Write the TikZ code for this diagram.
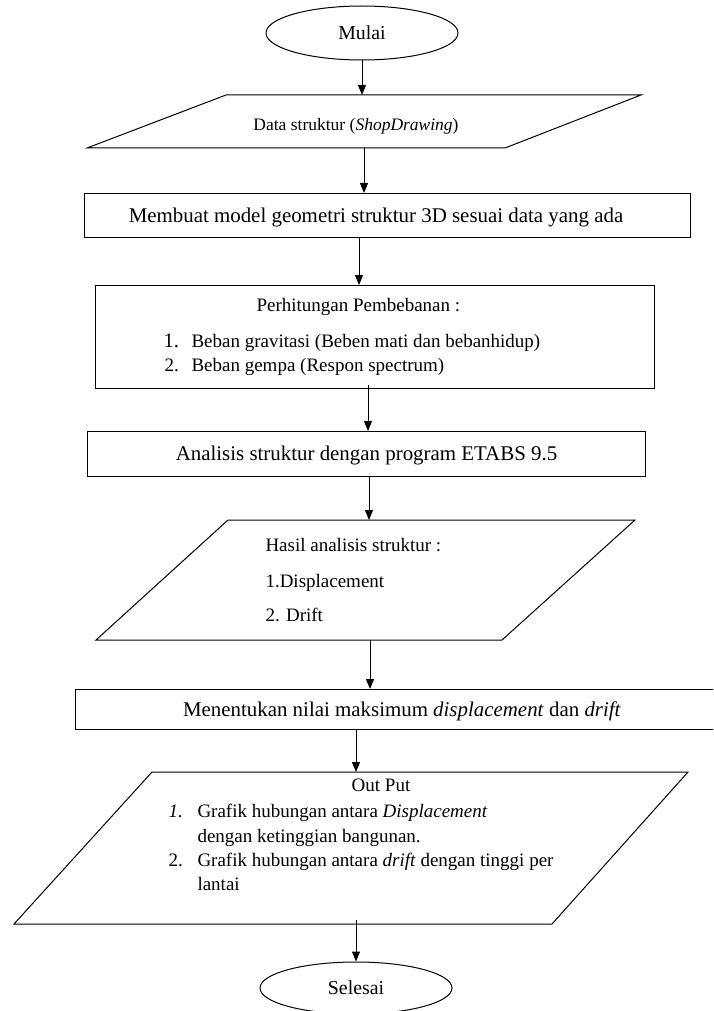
\documentclass[tikz,border=0pt]{standalone}
\usepackage{fontspec}
\setmainfont{Liberation Serif}
\usetikzlibrary{arrows.meta,shapes.geometric}
\begin{document}
\begin{tikzpicture}[x=1pt,y=-1pt,line width=1pt,
  arr/.style={-{Triangle[length=10pt,width=8pt]}},
  box/.style={draw,rectangle,inner sep=0pt,outer sep=0pt},
  term/.style={draw,ellipse,minimum width=192pt,minimum height=54pt,inner sep=0pt,font=\fontsize{19.8}{24}\selectfont},
  big/.style={font=\fontsize{20.9}{25}\selectfont,inner sep=0pt,anchor=base},
  med/.style={font=\fontsize{19}{23}\selectfont,inner sep=0pt,anchor=base west},
  small/.style={font=\fontsize{17.5}{21}\selectfont,inner sep=0pt}]
\useasboundingbox (0,0) rectangle (713,1011);
\clip (0,0) rectangle (713,1011);

% Mulai
\node[term] (mulai) at (362,33) {Mulai};

% Data struktur
\draw (226,95) -- (641,95) -- (505,148) -- (87,148) -- cycle;
\coordinate (dtop) at (362,95);
\coordinate (dbot) at (364,148);
\node[small] (dtext) at (356,126) {Data struktur (\textit{ShopDrawing})};

% Membuat model
\node[box,minimum width=606pt,minimum height=44pt] (membuat) at (387,215) {};
\node[big] (membuatT) at (376,222) {Membuat model geometri struktur 3D sesuai data yang ada};

% Perhitungan
\node[box,minimum width=559pt,minimum height=103pt] (perh) at (374.5,336.5) {};
\node[med] (perhT) at (256,311) {Perhitungan Pembebanan :};
\node[med,font=\fontsize{20.5}{24}\selectfont] (p1n) at (163,347) {1.};
\node[med] (p1) at (191,347) {Beban gravitasi (Beben mati dan bebanhidup)};
\node[med] (p2n) at (164,371) {2.};
\node[med] (p2) at (191,371) {Beban gempa (Respon spectrum)};

% Analisis
\node[box,minimum width=558pt,minimum height=45pt] (anal) at (366,453.5) {};
\node[big] (analT) at (366.5,460) {Analisis struktur dengan program ETABS 9.5};

% Hasil analisis
\draw (228,520) -- (635,520) -- (502,640) -- (96,640) -- cycle;
\coordinate (htop) at (369,520);
\coordinate (hbot) at (370,640);
\node[med] (h0) at (265,551) {Hasil analisis struktur :};
\node[med] (h1) at (265,587) {1.Displacement};
\node[med] (h2) at (265,621) {2. Drift};

% Menentukan
\node[box,minimum width=640pt,minimum height=40pt] (ment) at (395,709) {};
\node[big] (mentT) at (402,716) {Menentukan nilai maksimum \textit{displacement} dan \textit{drift}};

% Output
\draw (152,772) -- (688,772) -- (552,924) -- (14,924) -- cycle;
\coordinate (otop) at (356,772);
\coordinate (obot) at (356,920);
\node[med,anchor=base] (o0) at (381,791) {Out Put};
\node[med] (o1n) at (168,817) {\textit{1.}};
\node[med] (o1) at (197,817) {Grafik hubungan antara \textit{Displacement}};
\node[med] (o1b) at (197,842) {dengan ketinggian bangunan.};
\node[med] (o2n) at (168,866) {2.};
\node[med] (o2) at (197,866) {Grafik hubungan antara \textit{drift} dengan tinggi per};
\node[med] (o2b) at (197,890) {lantai};

% Selesai
\node[term,minimum height=52pt] (selesai) at (356,988) {Selesai};

% connectors
\coordinate (x3) at (359,0);
\coordinate (x4) at (368,0);
\draw[arr] (mulai.south) -- (dtop);
\draw[arr] (dbot) -- (membuat.north -| dbot);
\draw[arr] (membuat.south -| x3) -- (perh.north -| x3);
\draw[arr] ([yshift=3pt]perh.south -| x4) -- (anal.north -| x4);
\draw[arr] (anal.south -| htop) -- (htop);
\draw[arr] (hbot) -- (ment.north -| hbot);
\draw[arr] (ment.south -| otop) -- (otop);
\draw[arr] (obot) -- (selesai.north);
\end{tikzpicture}
\end{document}
